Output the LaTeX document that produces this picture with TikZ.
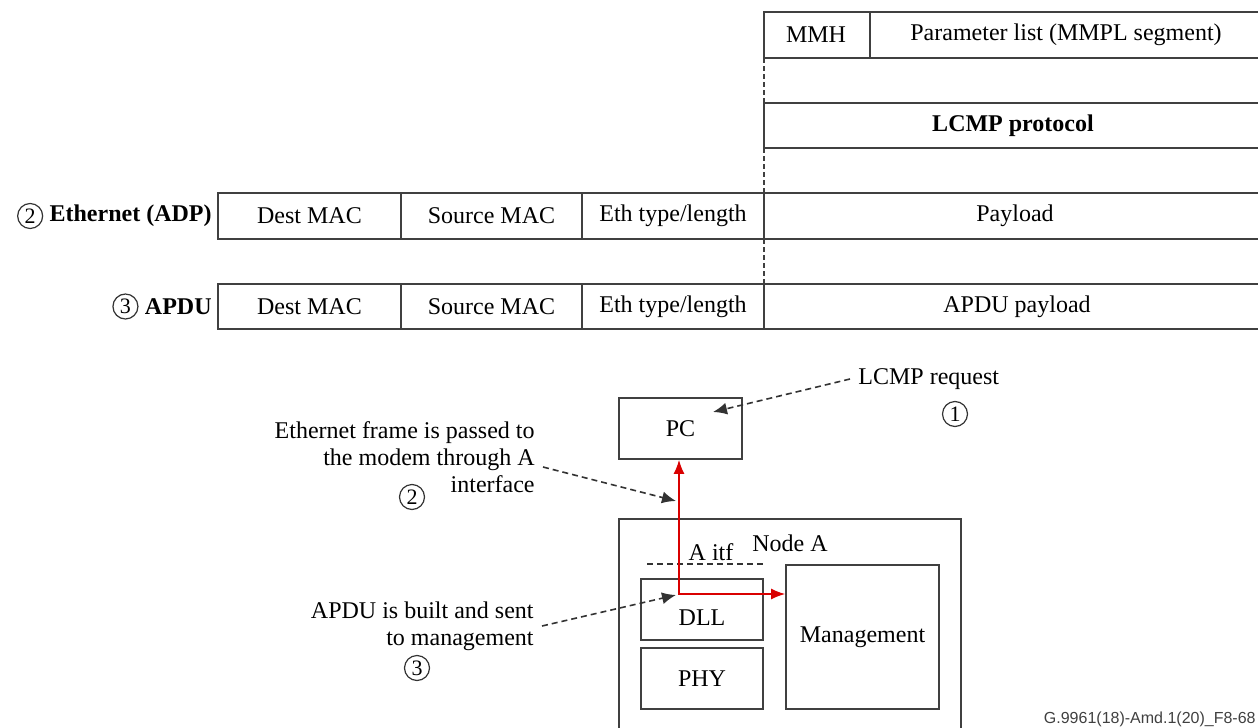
\documentclass[tikz,border=0pt]{standalone}
\usepackage{fontspec}
\setmainfont{Liberation Serif}
\newfontfamily\tagfont{Liberation Sans}
\usetikzlibrary{arrows.meta,positioning}

\begin{document}
\begin{tikzpicture}[
  x=0.5pt, y=-0.5pt,
  font=\fontsize{12}{13.5}\selectfont,
  frame/.style={draw=black!75, line width=0.8pt},
  guide/.style={draw=black!75, line width=0.8pt, dash pattern=on 2.5pt off 1.5pt},
  block/.style={draw=black!75, line width=0.8pt, inner sep=0pt},
  numcirc/.style={circle, draw=black!80, line width=0.6pt, inner sep=0pt,
    minimum size=12.5pt, font=\fontsize{11}{11}\selectfont},
  boldlbl/.style={anchor=east, inner sep=0pt, font=\fontsize{12}{13.5}\selectfont\bfseries},
  note/.style={align=right, inner sep=0pt},
  callout/.style={draw=black!80, line width=0.8pt, dash pattern=on 3pt off 2pt,
    -{Latex[length=7pt,width=6pt]}},
  flow/.style={draw=red!85!black, line width=0.8pt,
    {Latex[length=7pt,width=5.5pt]}-{Latex[length=7pt,width=5.5pt]}}
]
\useasboundingbox (0,0) rectangle (1258,728);

% ── LCMP message (MMH + parameter list) ────────────────────────
\draw[frame] (1262,12) -- (764,12) -- (764,58) -- (1262,58)
  (870,12) -- (870,58);
\node (mmh)  at (816,35)  {MMH};
\node (mmpl) at (1066,35) {Parameter list (MMPL segment)};
\draw[frame] (1262,103) -- (764,103) -- (764,148) -- (1262,148);
\node[font=\fontsize{12}{13.5}\selectfont\bfseries] (lcmp) at (1013,125.5) {LCMP protocol};

% ── Dashed guide between the layers ────────────────────────────
\draw[guide] (764,58) -- (764,103) (764,148) -- (764,193) (764,239) -- (764,284);

% ── Ethernet (ADP) frame ───────────────────────────────────────
\draw[frame] (1262,193) -- (218,193) -- (218,239) -- (1262,239)
  (401,193) -- (401,239)  (582,193) -- (582,239)  (764,193) -- (764,239);
\node (ethdst)  at (309.5,216) {Dest MAC};
\node (ethsrc)  at (491.5,216) {Source MAC};
\node (ethtype) at (673,216)   {Eth type/length};
\node (ethpay)  at (1015,216)  {Payload};
\node[boldlbl] (ethlbl) at (212,216) {Ethernet (ADP)};
\node[numcirc, left=3pt of ethlbl] (ethnum) {2};

% ── APDU frame ─────────────────────────────────────────────────
\draw[frame] (1262,284) -- (218,284) -- (218,329) -- (1262,329)
  (401,284) -- (401,329)  (582,284) -- (582,329)  (764,284) -- (764,329);
\node (apdst)  at (309.5,306.5) {Dest MAC};
\node (apsrc)  at (491.5,306.5) {Source MAC};
\node (aptype) at (673,306.5)   {Eth type/length};
\node (appay)  at (1017,306.5)  {APDU payload};
\node[boldlbl] (aplbl) at (212,306.5) {APDU};
\node[numcirc, left=3pt of aplbl] (apnum) {3};

% ── PC and Node A ──────────────────────────────────────────────
\node[block, minimum width=61.5pt, minimum height=30.5pt] (pc) at (680.5,428.5) {PC};
\draw[frame] (619,519) rectangle (961,740);
\node (nodea) at (790,543) {Node A};
\node (aitf)  at (711,552) {A itf};
\draw[draw=black!80, line width=0.8pt, dash pattern=on 3pt off 2pt] (647,564) -- (763,564);
\node[block, minimum width=61pt, minimum height=30.5pt,
  label={[yshift=-4pt]center:DLL}] (dll) at (702,609.5) {};
\node[block, minimum width=61pt, minimum height=30.5pt] (phy) at (702,678.5) {PHY};
\node[block, minimum width=76.5pt, minimum height=72pt] (mgmt) at (862.5,637) {Management};

% ── Red path: PC <-> DLL <-> management ────────────────────────
\coordinate (turn) at (679,594);
\draw[flow] (turn |- pc.south) -- (turn) -- (turn -| mgmt.west);

% ── Callouts ───────────────────────────────────────────────────
\node[inner sep=0pt, anchor=west] (lcmpnote) at (858,379) {LCMP request};
\node[numcirc] (lcmpnum) at (955,414) {1};
\coordinate (lcmptip) at (713,412);
\draw[callout] ([xshift=-4pt]lcmpnote.west) -- (lcmptip);

\node[note, anchor=east] (ethnote) at (535,457)
  {Ethernet frame is passed to\\the modem through A\\interface};
\node[numcirc] (ethnote2) at (412,497) {2};
\coordinate (ethtip) at (676,501);
\draw[callout] ([xshift=4pt,yshift=-5pt]ethnote.east) -- (ethtip);

\node[note, anchor=east] (apdunote) at (534,626)
  {APDU is built and sent\\to management};
\node[numcirc] (apdunum) at (417,668) {3};
\coordinate (apdutip) at (676,595);
\draw[callout] ([xshift=4pt]apdunote.east) -- (apdutip);

% ── Figure tag ─────────────────────────────────────────────────
\node[anchor=east, inner sep=0pt, text=black!75,
  font=\tagfont\fontsize{8}{9}\selectfont] (figtag) at (1256,719)
  {G.9961(18)-Amd.1(20)\_F8-68};

\end{tikzpicture}
\end{document}
